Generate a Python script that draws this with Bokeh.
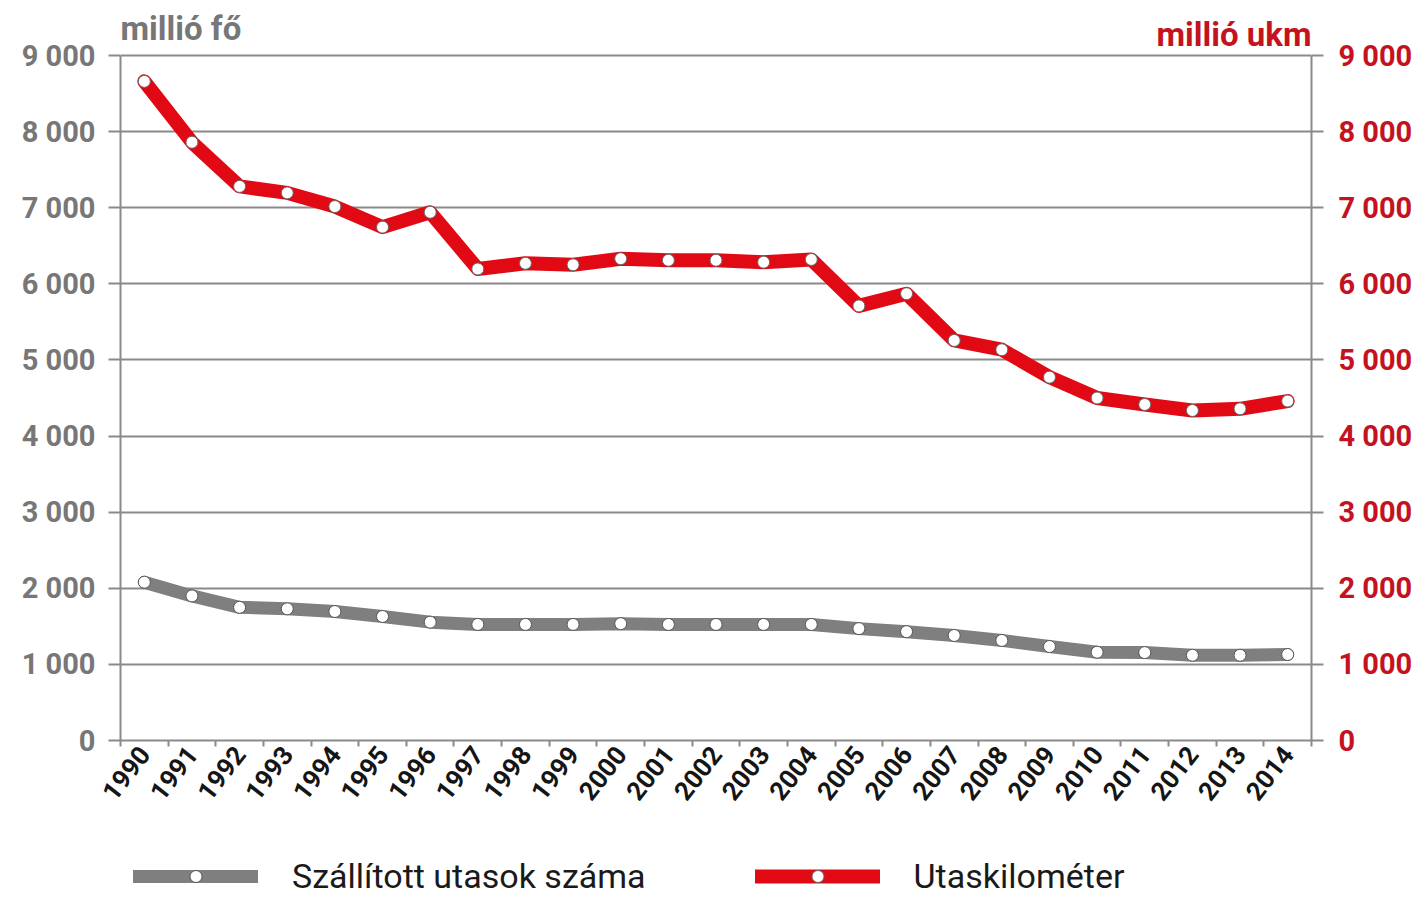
import math
from bokeh.plotting import figure
from bokeh.layouts import column
from bokeh.models import (Range1d, LinearAxis, FixedTicker, Label, Legend, LegendItem)
from bokeh.embed import file_html
from bokeh.resources import INLINE

# ---- data -------------------------------------------------------------
years = list(range(1990, 2015))
# Szállított utasok száma (millió fő) - left axis
passengers = [2080, 1900, 1750, 1730, 1695, 1630, 1555, 1525, 1525, 1525,
              1535, 1525, 1525, 1525, 1525, 1470, 1430, 1380, 1315, 1235,
              1160, 1155, 1120, 1120, 1130]
# Utaskilométer (millió ukm) - right axis
pkm = [8660, 7860, 7280, 7195, 7015, 6745, 6940, 6195, 6270, 6250,
       6330, 6310, 6310, 6285, 6320, 5710, 5870, 5256, 5134, 4774,
       4500, 4415, 4336, 4358, 4460]
y_ticks = [0, 1000, 2000, 3000, 4000, 5000, 6000, 7000, 8000, 9000]
y_tick_labels = ["0", "1 000", "2 000", "3 000", "4 000", "5 000",
                 "6 000", "7 000", "8 000", "9 000"]
left_title = "millió fő"
right_title = "millió ukm"
series_names = ["Szállított utasok száma", "Utaskilométer"]

# ---- style / layout ----------------------------------------------------
RED = "#e10a14"
RED_TXT = "#c4131f"
GREY = "#7f7f7f"
GRID = "#8a8a8a"
LBL_GREY = "#777777"
FONT = "Roboto"

W = 1416
H_MAIN = 832
H_LEG = 64
TOP_PAD_PX = 45          # room above the 9 000 line for the unit titles
AXIS_PX = 685            # pixel height of 0..9 000
y_max = y_ticks[-1]
y_top = y_max + TOP_PAD_PX * y_max / AXIS_PX

p = figure(width=W, height=H_MAIN, output_backend="svg", toolbar_location=None,
           x_range=Range1d(years[0] - 0.5, years[-1] + 0.5),
           y_range=Range1d(0, y_top),
           min_border_left=120, min_border_right=W - 1311,
           min_border_top=55 - TOP_PAD_PX, min_border_bottom=H_MAIN - 740)
p.extra_y_ranges = {"ukm": Range1d(0, y_top)}
p.outline_line_color = None
p.background_fill_color = "white"
p.border_fill_color = "white"

# grid
p.xgrid.grid_line_color = None
p.ygrid.ticker = FixedTicker(ticks=y_ticks)
p.ygrid.grid_line_color = GRID
p.ygrid.grid_line_width = 2

overrides = {t: s for t, s in zip(y_ticks, y_tick_labels)}


def style_y(ax, color, standoff):
    ax.ticker = FixedTicker(ticks=y_ticks)
    ax.bounds = (y_ticks[0], y_ticks[-1])
    ax.major_label_overrides = overrides
    ax.axis_line_color = GRID
    ax.axis_line_width = 2
    ax.major_tick_line_color = GRID
    ax.major_tick_line_width = 2
    ax.major_tick_out = 12
    ax.major_tick_in = 0
    ax.minor_tick_line_color = None
    ax.major_label_text_font = FONT
    ax.major_label_text_font_style = "bold"
    ax.major_label_text_font_size = "29px"
    ax.major_label_text_color = color
    ax.major_label_standoff = standoff


style_y(p.yaxis[0], LBL_GREY, 13)
ra = LinearAxis(y_range_name="ukm")
style_y(ra, RED_TXT, 15)
p.add_layout(ra, "right")

# bottom axis: labels at year centres, ticks at boundaries
xa = p.xaxis[0]
xa.ticker = FixedTicker(ticks=years, minor_ticks=[y - 0.5 for y in years] + [years[-1] + 0.5])
xa.major_label_overrides = {y: str(y) for y in years}
xa.axis_line_color = GRID
xa.axis_line_width = 2
xa.major_tick_line_color = None
xa.major_tick_out = 0
xa.major_tick_in = 0
xa.minor_tick_line_color = GRID
xa.minor_tick_line_width = 2
xa.minor_tick_out = 6
xa.minor_tick_in = 0
xa.major_label_orientation = math.radians(52)
xa.major_label_text_font = FONT
xa.major_label_text_font_style = "bold"
xa.major_label_text_font_size = "26px"
xa.major_label_text_color = "#151515"
xa.major_label_standoff = 3


def draw_series(fig):
    rng = "ukm" if "ukm" in fig.extra_y_ranges else "default"
    g_line = fig.line(years, passengers, line_color=GREY, line_width=13,
                      line_join="round", line_cap="round")
    g_pts = fig.scatter(years, passengers, size=12, fill_color="white",
                        line_color="#555555", line_width=1)
    r_line = fig.line(years, pkm, line_color=RED, line_width=14,
                      line_join="round", line_cap="round", y_range_name=rng)
    r_pts = fig.scatter(years, pkm, size=12, fill_color="white", line_color="#666666",
                        line_width=1, y_range_name=rng)
    return g_line, g_pts, r_line, r_pts


draw_series(p)

# unit titles above the top grid line
p.add_layout(Label(x=years[0] - 0.5, y=y_max, text=left_title, text_font=FONT,
                   text_font_style="bold", text_font_size="33px",
                   text_color=LBL_GREY, text_align="left",
                   text_baseline="bottom", y_offset=8))
p.add_layout(Label(x=years[-1] + 0.5, y=y_max, text=right_title, text_font=FONT,
                   text_font_style="bold", text_font_size="33px",
                   text_color=RED_TXT, text_align="right",
                   text_baseline="bottom", y_offset=2))

# ---- legend strip below the chart (its series lie outside its view) ----
leg = figure(width=W, height=H_LEG, output_backend="svg", toolbar_location=None,
             x_range=Range1d(0, 1), y_range=Range1d(0, 1),
             x_axis_location=None, y_axis_location=None,
             min_border_left=0, min_border_right=0, min_border_top=0,
             min_border_bottom=0)
leg.outline_line_color = None
leg.xgrid.visible = False
leg.ygrid.visible = False
lg_line, lg_pts, lr_line, lr_pts = draw_series(leg)

legend = Legend(items=[LegendItem(label=series_names[0], renderers=[lg_line, lg_pts]),
                       LegendItem(label=series_names[1], renderers=[lr_line, lr_pts])],
                orientation="horizontal", location=(13, 0),
                glyph_width=125, glyph_height=30, label_standoff=34, spacing=109,
                padding=0, margin=0, border_line_color=None,
                background_fill_alpha=0, label_text_font=FONT,
                label_text_font_size="34px", label_text_color="#1a1a1a",
                label_height=30)
leg.add_layout(legend, "center")

layout = column(p, leg, spacing=0)
open("out.html", "w").write(file_html(layout, INLINE))
